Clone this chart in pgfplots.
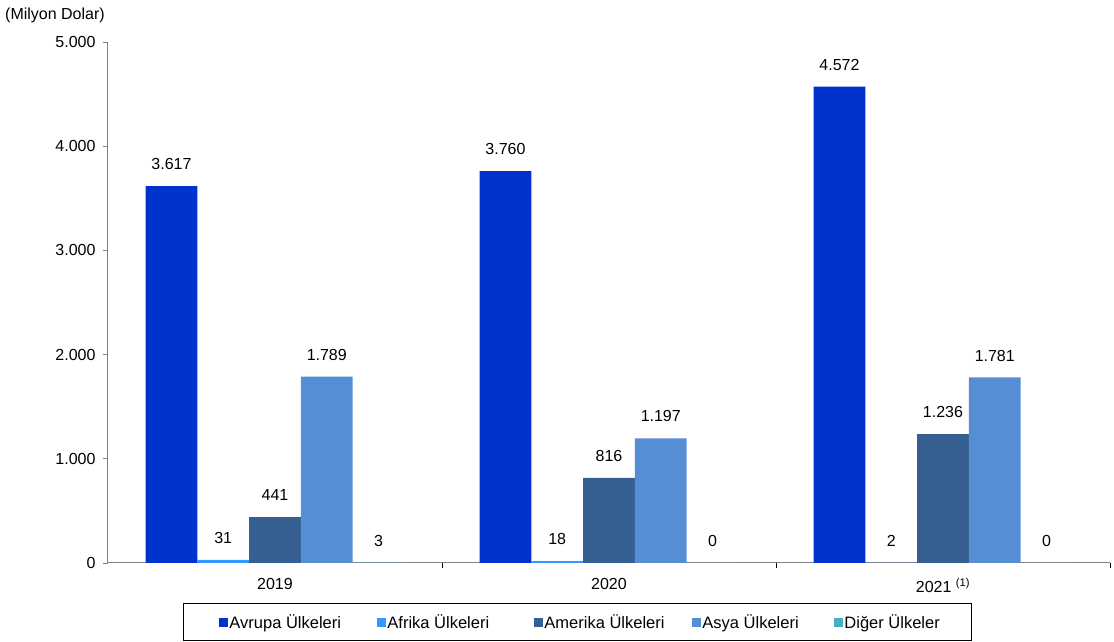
\documentclass[border=0pt]{standalone}
\usepackage{pgfplots}
\pgfplotsset{compat=1.18}
\usepackage{fontspec}
\setmainfont{Liberation Sans}
\definecolor{cAvr}{RGB}{0,51,204}
\definecolor{cAfr}{RGB}{51,153,255}
\definecolor{cAme}{RGB}{54,96,146}
\definecolor{cAsy}{RGB}{85,142,213}
\definecolor{cDig}{RGB}{75,172,198}
\definecolor{axgray}{RGB}{128,128,128}
\begin{document}
\begin{tikzpicture}[font=\fontsize{16}{19}\selectfont]
\useasboundingbox (-108pt,-79pt) rectangle (1006pt,563pt);
\begin{axis}[
  at={(0,0)}, anchor=south west,
  scale only axis, width=1002pt, height=521pt,
  xmin=-0.5, xmax=2.5, ymin=0, ymax=5000,
  ybar=0pt, bar width=0.155,
  axis x line*=bottom, axis y line*=left,
  axis line style={draw=axgray, line width=1pt},
  xtick={0,1,2},
  xticklabels={2019,2020,{2021 \textsuperscript{(1)}}},
  x tick label style={yshift=-7pt},
  xtick style={draw=none},
  extra x ticks={0.5,1.5,2.5},
  extra x tick labels={},
  extra x tick style={xtick style={draw=black, line width=0.8pt}, major tick length=5pt, tick align=outside},
  ytick={0,1000,2000,3000,4000,5000},
  ytick style={draw=axgray, line width=0.8pt},
  major tick length=5pt, tick align=outside,
  y tick label style={xshift=-4pt},
  /pgf/number format/.cd, 1000 sep={.}, assume math mode=true, /pgfplots/.cd,
  nodes near coords,
  every node near coord/.append style={anchor=south, inner sep=0pt, yshift=16pt, font=\fontsize{16}{19}\selectfont, /pgf/number format/1000 sep={.}, /pgf/number format/assume math mode=true},
  legend columns=5,
  legend style={at={(0.0749,-0.0768)}, anchor=north west, draw=black, line width=0.8pt,
    inner xsep=36pt, inner ysep=8pt,
    /tikz/every even column/.append style={column sep=0pt},
    nodes={inner xsep=1pt, inner ysep=3pt, font=\fontsize{16.5}{19}\selectfont}},
  legend cell align=left,
  legend image code/.code={\fill[#1] (0pt,-4.5pt) rectangle (9pt,4.5pt);},
]
\addplot[fill=cAvr, draw=none] coordinates {(0,3617) (1,3760) (2,4572)};
\addplot[fill=cAfr, draw=none] coordinates {(0,31) (1,18) (2,2)};
\addplot[fill=cAme, draw=none] coordinates {(0,441) (1,816) (2,1236)};
\addplot[fill=cAsy, draw=none] coordinates {(0,1789) (1,1197) (2,1781)};
\addplot[fill=cDig, draw=none] coordinates {(0,3) (1,0) (2,0)};
\legend{\makebox[147pt][l]{Avrupa Ülkeleri}, \makebox[146pt][l]{Afrika Ülkeleri}, \makebox[147pt][l]{Amerika Ülkeleri}, \makebox[131pt][l]{Asya Ülkeleri}, \makebox[90pt][l]{Diğer Ülkeler}}
\end{axis}
\node[anchor=west, inner sep=0pt] at (-103pt,548pt) {(Milyon Dolar)};
\end{tikzpicture}
\end{document}
